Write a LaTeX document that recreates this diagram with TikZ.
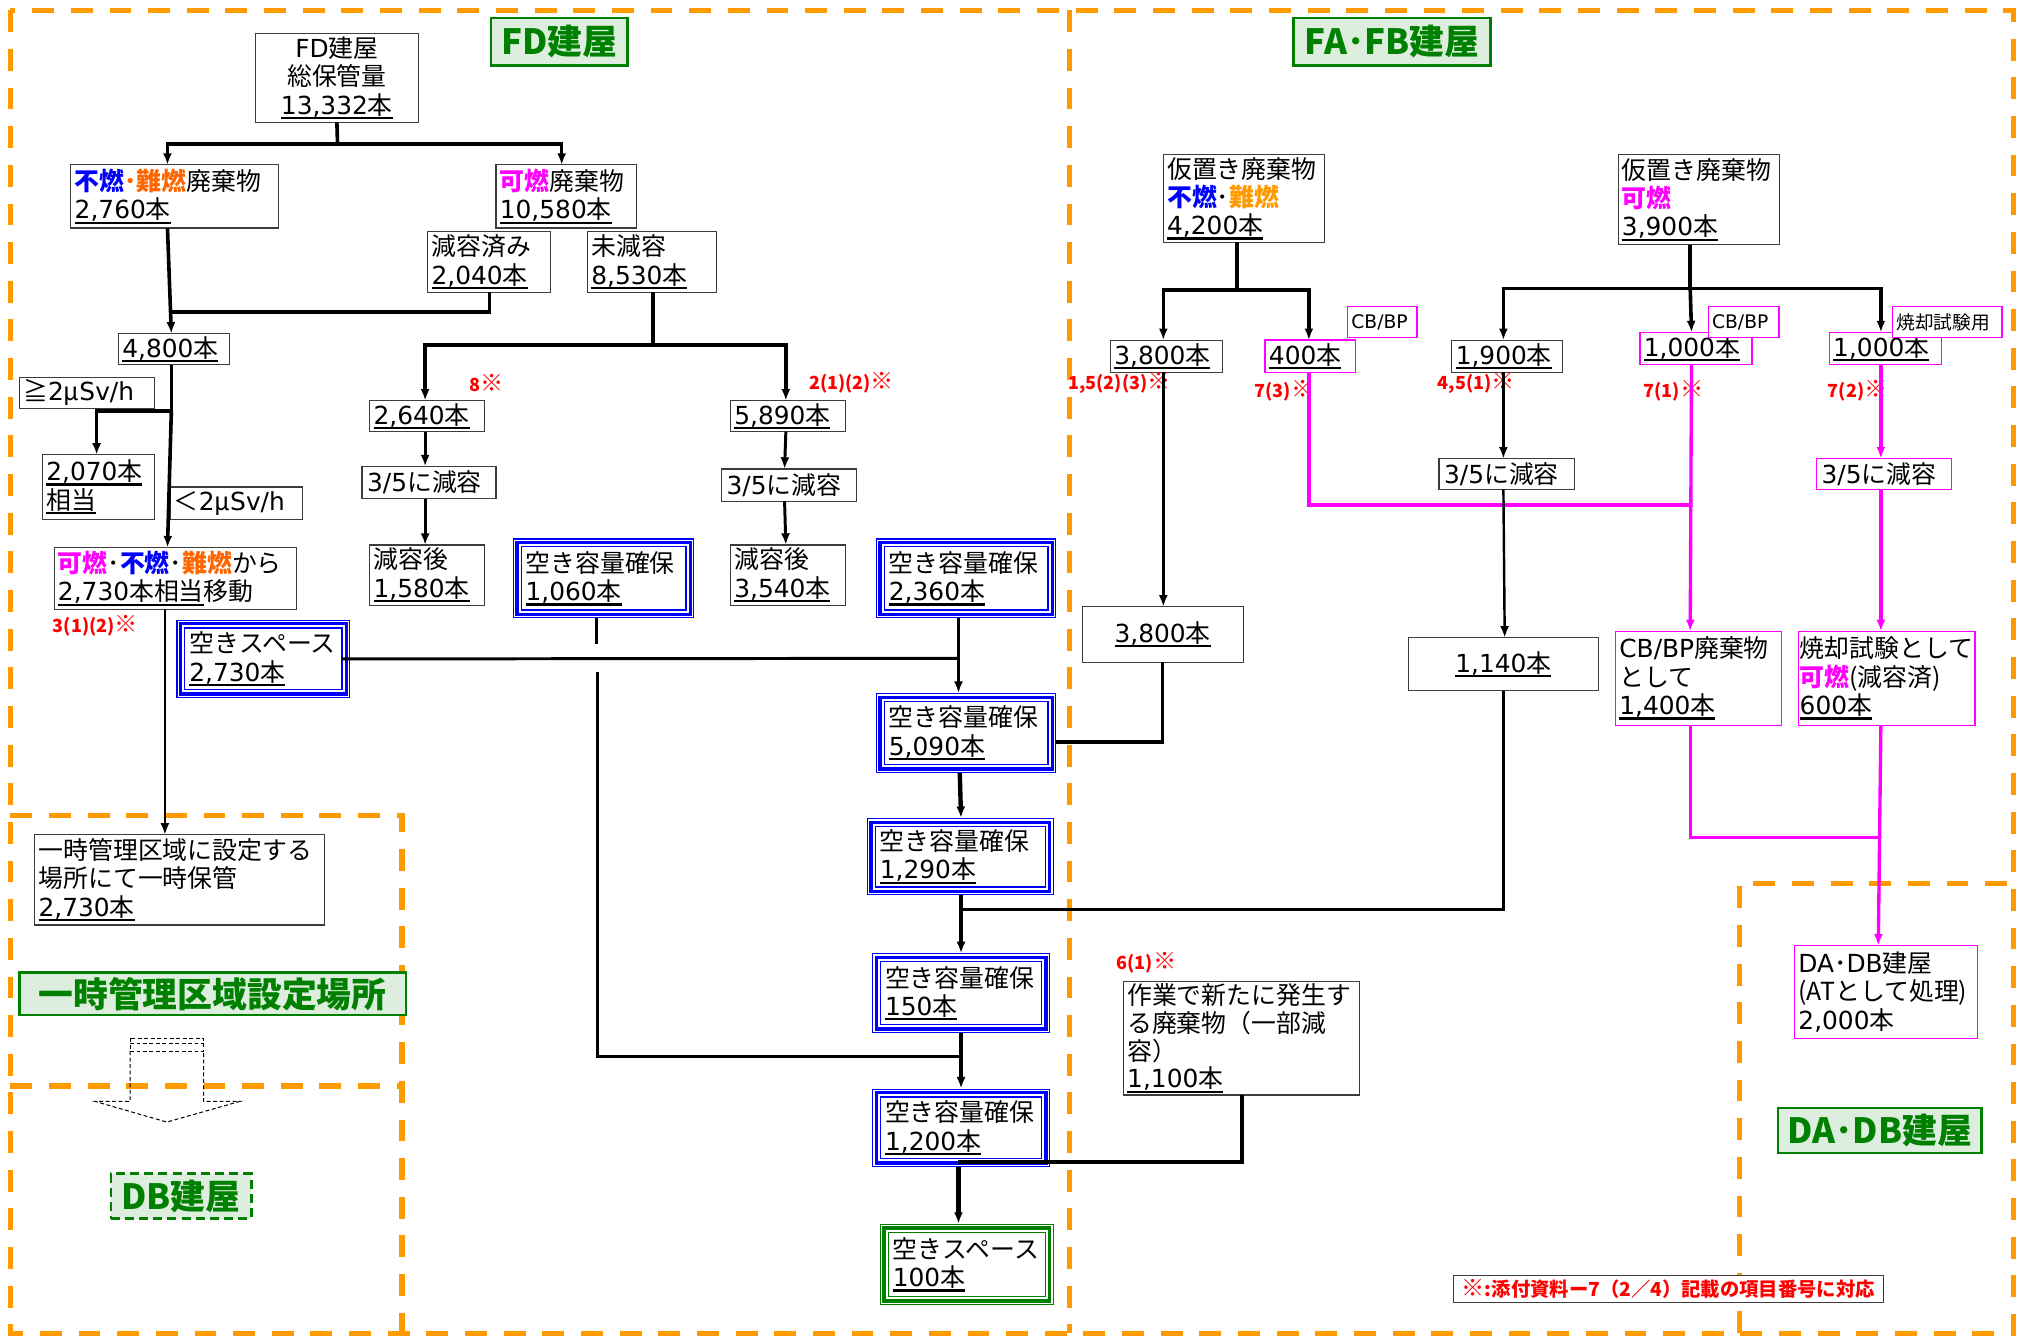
\documentclass[tikz,border=0pt]{standalone}
\usepackage{fontspec}
\setmainfont{Noto Sans CJK JP}
\newfontfamily\dv{DejaVu Sans}
\usepackage{graphicx}
\usetikzlibrary{calc,arrows.meta}
\definecolor{org}{RGB}{255,153,0}
\definecolor{grn}{RGB}{0,128,0}
\definecolor{lgrn}{RGB}{222,238,222}
\definecolor{blu}{RGB}{0,0,255}
\definecolor{mag}{RGB}{255,0,255}
\definecolor{ora}{RGB}{255,102,0}
\definecolor{orb}{RGB}{255,153,0}
\definecolor{rd}{RGB}{255,0,0}
\definecolor{bxg}{RGB}{60,60,60}
\newcommand{\ul}[1]{\leavevmode\setbox0\hbox{#1}\rlap{\rule[-0.2em]{\wd0}{0.09em}}\box0}
\newcommand{\N}[1]{{\dv #1}}
\newcommand{\kome}{{\fontsize{18}{15}\selectfont ※}}
\newcommand{\cB}[1]{\textcolor{blu}{\bfseries #1}}
\newcommand{\cM}[1]{\textcolor{mag}{\bfseries #1}}
\newcommand{\cO}[1]{\textcolor{ora}{\bfseries #1}}
\newcommand{\bx}[8][]{%
  \pgfmathsetmacro{\bw}{#6-#4}%
  \pgfmathsetmacro{\bh}{#7-#5}%
  \pgfmathsetmacro{\bcx}{(#4+#6)/2}%
  \pgfmathsetmacro{\bcy}{(#5+#7)/2}%
  \pgfmathsetmacro{\btw}{#6-#4-2*#3}%
  \node[bx,inner xsep=#3pt,text width=\btw pt,minimum width=\bw pt,minimum height=\bh pt,#1] (#2) at (\bcx,\bcy) {#8};%
}
\newcommand{\tri}[2]{%
  \draw[#2,line width=0.9pt] ([shift={(0.45,0.45)}]#1.north west) rectangle ([shift={(-0.45,-0.45)}]#1.south east);
  \draw[#2,line width=2.6pt] ([shift={(3.2,3.2)}]#1.north west) rectangle ([shift={(-3.2,-3.2)}]#1.south east);
  \draw[#2,line width=0.9pt] ([shift={(6.5,6.5)}]#1.north west) rectangle ([shift={(-6.5,-6.5)}]#1.south east);}
\tikzset{
  bx/.style={draw=bxg,line width=0.9pt,fill=white,inner ysep=0pt,align=left,outer sep=0pt,
    font=\fontsize{19.3}{22}\selectfont},
  bb/.style={draw=none},
  mb/.style={draw=mag,line width=1pt},
  sm/.style={font=\fontsize{14.5}{16}\selectfont},
  glbl/.style={draw=grn,line width=2pt,fill=lgrn,text=grn,align=center,
    font=\bfseries\fontsize{27}{29}\selectfont},
  rlab/.style={text=rd,inner sep=0pt,font=\bfseries\fontsize{14}{15}\selectfont},
  odash/.style={draw=org,line width=4pt,dash pattern=on 17pt off 13pt},
  k/.style={draw=black,line width=2.8pt},
  k3/.style={draw=black,line width=3.4pt},
  km/.style={draw=black,line width=2.3pt},
  kt/.style={draw=black,line width=1.9pt},
  m/.style={draw=mag,line width=2.6pt},
  arr/.style={-{Latex[length=9pt,width=7pt]}},
  da/.style={draw=black,line width=0.8pt,dash pattern=on 3pt off 2pt},
}
\begin{document}
\begin{tikzpicture}[x=1pt,y=-1pt]
\useasboundingbox (0,0) rectangle (1568,1040);
% orange dashed regions
\draw[odash] (8,8) rectangle (1563,1035);
\draw[odash] (830,8) -- (830,1035);
\draw[odash] (8,633) -- (312,633) -- (312,1035);
\draw[odash] (8,843) -- (312,843);
\draw[odash] (1350,1035) -- (1350,686) -- (1563,686);
% green labels
\bx[glbl]{lfd}{0}{381}{14}{487}{51}{FD建屋}
\bx[glbl]{lfa}{0}{1004}{14}{1157}{51}{FA･FB建屋}
\bx[glbl]{ltmp}{0}{15}{755}{315}{788}{一時管理区域設定場所}
\bx[glbl,dashed,dash pattern=on 7pt off 4pt]{ldb}{0}{86}{911}{195}{946}{DB建屋}
\bx[glbl]{lda}{0}{1380}{860}{1538}{895}{DA･DB建屋}
% dashed block arrow
\draw[da] (101,816) -- (101,855) -- (74,855) -- (129.5,871) -- (186,855) -- (158,855) -- (158,816);
\draw[da] (101,806) rectangle (158,816);
\draw[da] (101,810) -- (158,810);
% FD nodes
\bx[align=center]{fdtop}{3}{198}{26}{325}{95}{\N{FD}建屋\\総保管量\\\ul{\N{13,332}本}}
\bx{fn}{3}{55}{128}{216}{177}{\cB{不燃}\cO{･難燃}廃棄物\\\ul{\N{2,760}本}}
\bx{kn}{3}{385}{128}{494}{177}{\cM{可燃}廃棄物\\\ul{\N{10,580}本}}
\bx{gz}{3}{332}{180}{427}{227}{減容済み\\\ul{\N{2,040}本}}
\bx{mg}{3}{456}{180}{556}{227}{未減容\\\ul{\N{8,530}本}}
\bx{n4800}{3}{92}{259}{178}{283}{\ul{\N{4,800}本}}
\bx{ge2}{3}{15}{293}{120}{317}{≧\N{2}μ\N{Sv/h}}
\bx{n2070}{3}{33}{353}{120}{403}{\ul{\N{2,070}本}\\\ul{相当}}
\bx{lt2}{3}{132}{378}{235}{403}{＜\N{2}μ\N{Sv/h}}
\bx{mv}{3}{42}{425}{230}{473}{\cM{可燃}･\cB{不燃}･\cO{難燃}から\\\ul{\N{2,730}本相当}移動}
\bx{n2640}{3}{287}{311}{376}{335}{\ul{\N{2,640}本}}
\bx{rA}{4}{281}{362}{385}{387}{\N{3/5}に減容}
\bx{af1}{3}{287}{423}{376}{470}{減容後\\\ul{\N{1,580}本}}
\bx[bb]{b1060}{10}{398}{418}{539}{480}{空き容量確保\\\ul{\N{1,060}本}}
\bx[bb]{s2730}{10}{137}{481}{272}{542}{空きスペース\\\ul{\N{2,730}本}}
\bx{n5890}{3}{567}{311}{656}{335}{\ul{\N{5,890}本}}
\bx{rB}{4}{560}{364}{665}{389}{\N{3/5}に減容}
\bx{af2}{3}{567}{423}{656}{470}{減容後\\\ul{\N{3,540}本}}
\bx[bb]{b2360}{10}{680}{418}{820}{480}{空き容量確保\\\ul{\N{2,360}本}}
\bx[bb]{b5090}{10}{680}{538}{820}{600}{空き容量確保\\\ul{\N{5,090}本}}
\bx[bb]{b1290}{10}{673}{635}{818}{695}{空き容量確保\\\ul{\N{1,290}本}}
\bx[bb]{b150}{10}{677}{740}{815}{802}{空き容量確保\\\ul{\N{150}本}}
\bx[bb]{b1200}{10}{677}{845}{815}{906}{空き容量確保\\\ul{\N{1,200}本}}
\bx[bb]{s100}{10}{683}{950}{818}{1013}{空きスペース\\\ul{\N{100}本}}
\tri{b1060}{blu}\tri{s2730}{blu}\tri{b2360}{blu}\tri{b5090}{blu}
\tri{b1290}{blu}\tri{b150}{blu}\tri{b1200}{blu}\tri{s100}{grn}
\bx{tmp}{3}{27}{648}{252}{718}{一時管理区域に設定する\\場所にて一時保管\\\ul{\N{2,730}本}}
% FA/FB nodes
\bx{fa42}{3}{903}{120}{1028}{188}{仮置き廃棄物\\\cB{不燃}･\textcolor{orb}{\bfseries 難燃}\\\ul{\N{4,200}本}}
\bx{n3800a}{3}{862}{264}{949}{289}{\ul{\N{3,800}本}}
\bx[mb]{n400}{3}{982}{264}{1052}{289}{\ul{\N{400}本}}
\bx[mb,sm]{cb1}{3}{1046}{238}{1100}{262}{\N{CB/BP}}
\bx[align=center]{n3800b}{3}{840}{471}{965}{514}{\ul{\N{3,800}本}}
\bx{fa39}{3}{1256}{120}{1381}{190}{仮置き廃棄物\\\cM{可燃}\\\ul{\N{3,900}本}}
\bx{n1900}{3}{1127}{264}{1213}{289}{\ul{\N{1,900}本}}
\bx[mb]{n1000a}{3}{1273}{258}{1360}{283}{\ul{\N{1,000}本}}
\bx[mb,sm]{cb2}{3}{1326}{238}{1381}{262}{\N{CB/BP}}
\bx[mb]{n1000b}{3}{1420}{258}{1507}{283}{\ul{\N{1,000}本}}
\bx[mb,sm]{sk}{3}{1469}{238}{1554}{262}{焼却試験用}
\bx{rC}{4}{1117}{356}{1222}{380}{\N{3/5}に減容}
\bx[mb]{rD}{4}{1410}{356}{1515}{380}{\N{3/5}に減容}
\bx[align=center]{n1140}{3}{1093}{495}{1241}{536}{\ul{\N{1,140}本}}
\bx[mb]{cbw}{3}{1254}{490}{1383}{563}{\N{CB/BP}廃棄物\\として\\\ul{\N{1,400}本}}
\bx[mb]{shw}{1}{1396}{490}{1533}{563}{焼却試験として\\\cM{可燃}(減容済)\\\ul{\N{600}本}}
\bx[mb]{dadb}{3}{1393}{734}{1535}{806}{\N{DA}･\N{DB}建屋\\(ATとして処理)\\\N{2,000}本}
\bx[font=\fontsize{19.3}{21.5}\selectfont]{sagyo}{3}{872}{762}{1055}{850}{作業で新たに発生す\\る廃棄物（一部減\\容）\\\ul{\N{1,100}本}}
\bx[align=center,text=rd,font=\bfseries\fontsize{15}{16}\selectfont]{note}{2}{1128}{990}{1462}{1011}{{\fontsize{18}{16}\selectfont ※}:添付資料ー7（2／4）記載の項目番号に対応}
% red reference labels
\node[rlab] (r312) at (74,486) {3(1)(2)\kome};
\node[rlab] (r8) at (378,297) {8\kome};
\node[rlab] (r212) at (661,297) {2(1)(2)\kome};
\node[rlab] (r15) at (869,297) {1,5(2)(3)\kome};
\node[rlab] (r73) at (997,303) {7(3)\kome};
\node[rlab] (r451) at (1146,297) {4,5(1)\kome};
\node[rlab] (r71) at (1299,303) {7(1)\kome};
\node[rlab] (r72) at (1442,303) {7(2)\kome};
\node[rlab] (r61) at (890,747) {6(1)\kome};
% magenta connectors
\coordinate (c16) at (1313,392);
\draw[m] ($(n400.south west)+(34,0)$) |- (c16);
\draw[m,arr] ($(n1000a.south west)+(40,0)$) -- ($(cbw.north west)+(58,0)$);
\draw[m,arr] ($(n1000b.south west)+(40,0)$) -- ($(rD.north west)+(50,0)$);
\draw[m,arr] ($(rD.south west)+(50,0)$) -- ($(shw.north west)+(64,0)$);
\coordinate (c20) at (1458,650);
\draw[m] ($(cbw.south west)+(58,0)$) |- (c20);
\draw[m,arr] ($(shw.south west)+(64,0)$) -- ($(dadb.north west)+(65,0)$);
% black connectors
\coordinate (c1) at (262,112);
\draw[k] (fdtop.south) -- (c1);
\draw[k,arr] (c1) -| ($(fn.north west)+(75,0)$);
\draw[k,arr] (c1) -| ($(kn.north west)+(51,0)$);
\draw[k,arr] ($(fn.south west)+(75,0)$) -- ($(n4800.north west)+(41,0)$);
\coordinate (c2) at (133,242);
\draw[k] ($(gz.south west)+(48,0)$) |- (c2);
\coordinate (c3) at (507,268);
\draw[k] ($(mg.south west)+(51,0)$) -- (c3);
\draw[k,arr] (c3) -| ($(n2640.north west)+(43,0)$);
\draw[k,arr] (c3) -| ($(n5890.north west)+(43,0)$);
\coordinate (c4) at (133,319);
\draw[k] ($(n4800.south west)+(41,0)$) -- (c4);
\draw[k,arr] (c4) -| ($(n2070.north west)+(42,0)$);
\draw[k,arr] (c4) -- ($(mv.north west)+(88,0)$);
\draw[kt,arr] ($(mv.south west)+(86,0)$) -- ($(tmp.north west)+(101,0)$);
\draw[km,arr] ($(n2640.south west)+(43,0)$) -- ($(rA.north west)+(49,0)$);
\draw[km,arr] ($(rA.south west)+(49,0)$) -- ($(af1.north west)+(43,0)$);
\draw[km,arr] ($(n5890.south west)+(43,0)$) -- ($(rB.north west)+(49,0)$);
\draw[km,arr] ($(rB.south west)+(49,0)$) -- ($(af2.north west)+(43,0)$);
\coordinate (h1) at (463,500);
\coordinate (h2) at (464,522);
\coordinate (c8) at (746,820);
\draw[km] ($(b1060.south west)+(65,0)$) -- (h1);
\draw[km] (h2) |- (c8);
\coordinate (c9) at (744,511);
\draw[km] ($(s2730.east)+(-7,0)$) -- (c9);
\draw[k,arr] ($(b2360.south west)+(64,0)$) -- ($(b5090.north west)+(64,0)$);
\draw[k3,arr] ($(b5090.south west)+(65,0)$) -- ($(b1290.north west)+(73,0)$);
\draw[k,arr] ($(b1290.south west)+(73,0)$) -- ($(b150.north west)+(69,0)$);
\coordinate (c11) at (746,706);
\draw[km] (c11) -| (n1140.south);
\draw[k,arr] ($(b150.south west)+(69,0)$) -- ($(b1200.north west)+(69,0)$);
\draw[k3,arr] ($(b1200.south west)+(67,0)$) -- ($(s100.north west)+(61,0)$);
\coordinate (c13) at (744,902);
\draw[k] (c13) -| ($(sagyo.south west)+(92,0)$);
\draw[k,arr] ($(n3800a.south west)+(41,0)$) -- ($(n3800b.north west)+(63,0)$);
\draw[k] (n3800b.south) |- ($(b5090.south east)+(0,-24)$);
\coordinate (c15) at (960,225);
\draw[k] ($(fa42.south west)+(57,0)$) -- (c15);
\draw[k,arr] (c15) -| ($(n3800a.north west)+(41,0)$);
\draw[k,arr] (c15) -| ($(n400.north west)+(34,0)$);
\coordinate (c17) at (1312,224);
\draw[k] ($(fa39.south west)+(56,0)$) -- (c17);
\draw[k,arr] (c17) -| ($(n1900.north west)+(40,0)$);
\draw[k,arr] (c17) -- ($(n1000a.north west)+(40,0)$);
\draw[k,arr] (c17) -| ($(n1000b.north west)+(40,0)$);
\draw[kt,arr] ($(n1900.south west)+(40,0)$) -- ($(rC.north west)+(50,0)$);
\draw[kt,arr] ($(rC.south west)+(50,0)$) -- ($(n1140.north west)+(75,0)$);
\end{tikzpicture}
\end{document}
